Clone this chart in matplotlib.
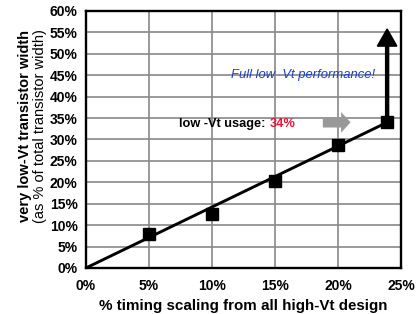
import matplotlib.pyplot as plt
import numpy as np

plt.rcParams['font.family'] = ['Liberation Sans', 'DejaVu Sans']

# data
timing_scaling = [5, 10, 15, 20, 23.9]
lowvt_width = [8.0, 12.7, 20.2, 28.8, 34.0]
trend_x = [0, 23.9]
trend_y = [0, 34.0]
x_ticks = [0, 5, 10, 15, 20, 25]
y_ticks = list(range(0, 61, 5))

fig = plt.figure(figsize=(4.19, 3.14), dpi=100)
ax = fig.add_axes([0.205, 0.1465, 0.752, 0.8185])

ax.plot(trend_x, trend_y, color='black', lw=2.1, zorder=3)
ax.plot(timing_scaling, lowvt_width, 's', color='black', ms=9, zorder=4)

# big black arrow up to "full low-Vt"
ax.arrow(trend_x[-1], trend_y[-1], 0, 55.8 - trend_y[-1], width=0.24,
         head_width=1.55, head_length=4.0, length_includes_head=True,
         color='black', zorder=5)

# gray block arrow
ax.arrow(18.8, 34.0, 2.2, 0, width=2.4, head_width=4.8, head_length=0.75,
         length_includes_head=True, color='#999999', lw=0, zorder=5)

ax.text(17.2, 45.1, 'Full low  Vt performance!', color='#1a3fc8',
        style='italic', fontsize=9.4, ha='center', va='center')
ax.text(7.4, 33.7, 'low -Vt usage:', fontweight='bold', fontsize=9.2,
        ha='left', va='center')
ax.text(14.6, 33.7, '34%', fontweight='bold', fontsize=9.2, color='#ee1133',
        ha='left', va='center')

ax.set_xlim(0, 25)
ax.set_ylim(0, 60)
ax.set_xticks(x_ticks)
ax.set_yticks(y_ticks)
ax.set_xticklabels([f'{v}%' for v in x_ticks], fontweight='bold', fontsize=10)
ax.set_yticklabels([f'{v}%' for v in y_ticks], fontweight='bold', fontsize=10)
ax.tick_params(axis='y', length=0, pad=6)
ax.tick_params(axis='x', length=0, pad=8)
ax.grid(True, color='#888888', lw=1.2)
ax.set_axisbelow(True)
for s in ax.spines.values():
    s.set_linewidth(1.7)
    s.set_color('black')

ax.set_xlabel('% timing scaling from all high-Vt design', fontweight='bold',
              fontsize=10.9, labelpad=4)
fig.text(0.06, 0.598, 'very low-Vt transistor width', rotation=90,
         fontweight='bold', fontsize=10.5, ha='center', va='center')
fig.text(0.095, 0.598, '(as % of total transistor width)', rotation=90,
         fontsize=10.5, ha='center', va='center')

fig.savefig('out.png', dpi=100)
